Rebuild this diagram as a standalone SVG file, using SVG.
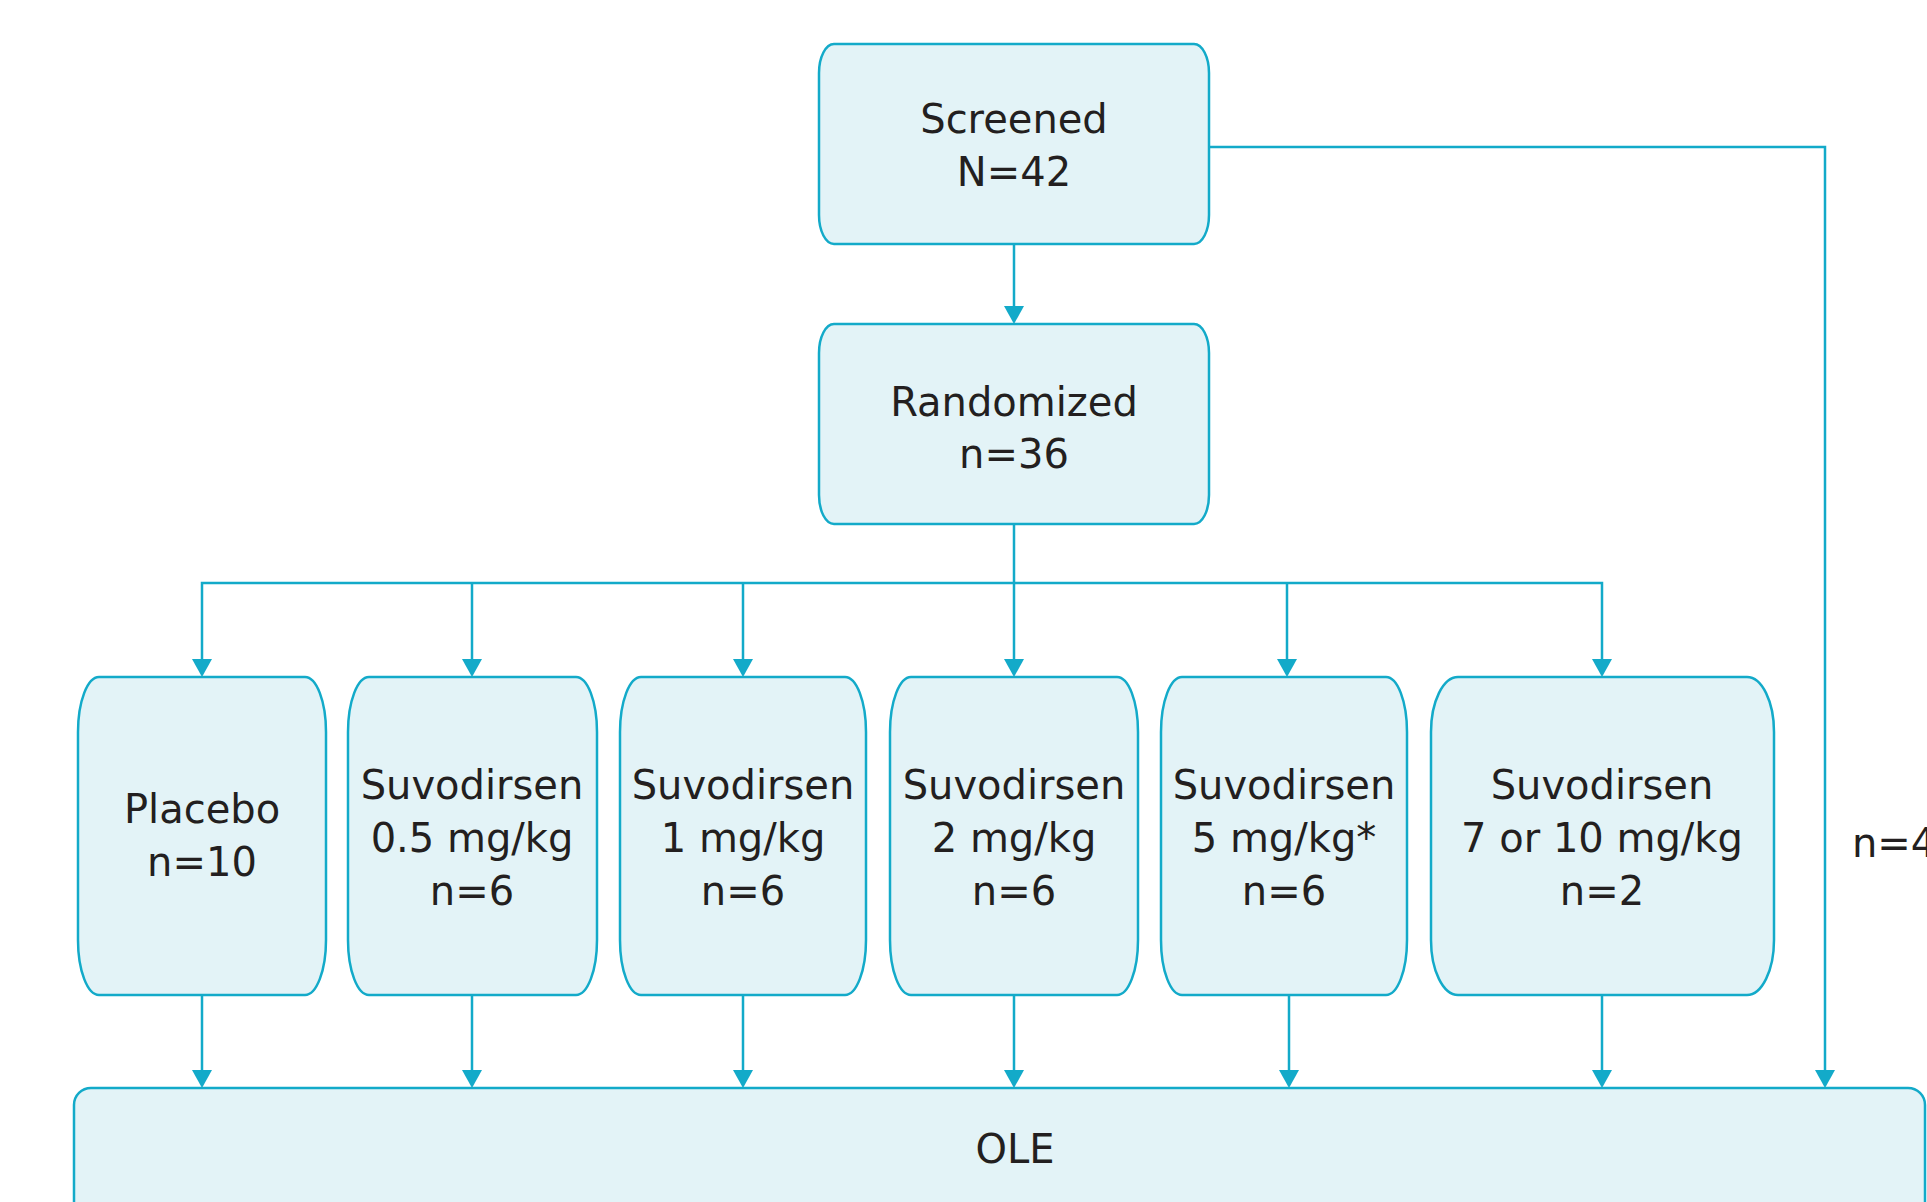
<svg xmlns="http://www.w3.org/2000/svg" width="1927" height="1202" viewBox="0 0 1927 1202">
<style>
.box{fill:#E3F3F7;stroke:#13AAC9;stroke-width:2.5}
.ln{fill:none;stroke:#13AAC9;stroke-width:2.5}
.ah{fill:#13AAC9}
text{font-family:"DejaVu Sans","Verdana",sans-serif;font-size:40px;fill:#231F20;text-anchor:middle}
</style>
<defs>
<path id="tri" d="M-10,-18 L10,-18 L0,0 Z"/>
</defs>
<rect width="1927" height="1202" fill="#FFFFFF"/>
<g id="connectors">
<path class="ln" d="M1014,244 V308"/>
<path class="ln" d="M1209,147 H1825 V1072"/>
<path class="ln" d="M1014,524 V661"/>
<path class="ln" d="M202,661 V583 H1602 V661"/>
<path class="ln" d="M472,583 V661 M743,583 V661 M1287,583 V661"/>
<path class="ln" d="M202,995 V1072 M472,995 V1072 M743,995 V1072 M1014,995 V1072 M1289,995 V1072 M1602,995 V1072"/>
<g class="ah">
<use href="#tri" x="1014" y="324"/>
<use href="#tri" x="202" y="677"/>
<use href="#tri" x="472" y="677"/>
<use href="#tri" x="743" y="677"/>
<use href="#tri" x="1014" y="677"/>
<use href="#tri" x="1287" y="677"/>
<use href="#tri" x="1602" y="677"/>
<use href="#tri" x="202" y="1088"/>
<use href="#tri" x="472" y="1088"/>
<use href="#tri" x="743" y="1088"/>
<use href="#tri" x="1014" y="1088"/>
<use href="#tri" x="1289" y="1088"/>
<use href="#tri" x="1602" y="1088"/>
<use href="#tri" x="1825" y="1088"/>
</g>
<text x="1852" y="857" style="text-anchor:start">n=4</text>
</g>
<g id="screened">
<rect class="box" x="819" y="44" width="390" height="200" rx="15" ry="29"/>
<text x="1014" y="133">Screened</text>
<text x="1014" y="186">N=42</text>
</g>
<g id="randomized">
<rect class="box" x="819" y="324" width="390" height="200" rx="15" ry="29"/>
<text x="1014" y="416">Randomized</text>
<text x="1014" y="468">n=36</text>
</g>
<g id="placebo">
<rect class="box" x="78" y="677" width="248" height="318" rx="21" ry="55"/>
<text x="202" y="823">Placebo</text>
<text x="202" y="876">n=10</text>
</g>
<g id="dose05">
<rect class="box" x="348" y="677" width="249" height="318" rx="21" ry="55"/>
<text x="472" y="799">Suvodirsen</text>
<text x="472" y="852">0.5 mg/kg</text>
<text x="472" y="905">n=6</text>
</g>
<g id="dose1">
<rect class="box" x="620" y="677" width="246" height="318" rx="21" ry="55"/>
<text x="743" y="799">Suvodirsen</text>
<text x="743" y="852">1 mg/kg</text>
<text x="743" y="905">n=6</text>
</g>
<g id="dose2">
<rect class="box" x="890" y="677" width="248" height="318" rx="21" ry="55"/>
<text x="1014" y="799">Suvodirsen</text>
<text x="1014" y="852">2 mg/kg</text>
<text x="1014" y="905">n=6</text>
</g>
<g id="dose5">
<rect class="box" x="1161" y="677" width="246" height="318" rx="21" ry="55"/>
<text x="1284" y="799">Suvodirsen</text>
<text x="1284" y="852">5 mg/kg*</text>
<text x="1284" y="905">n=6</text>
</g>
<g id="dose7-10">
<rect class="box" x="1431" y="677" width="343" height="318" rx="27" ry="55"/>
<text x="1602" y="799">Suvodirsen</text>
<text x="1602" y="852">7 or 10 mg/kg</text>
<text x="1602" y="905">n=2</text>
</g>
<g id="ole">
<rect class="box" x="74" y="1088" width="1851" height="140" rx="17" ry="17"/>
<text x="1015" y="1163">OLE</text>
</g>
</svg>
